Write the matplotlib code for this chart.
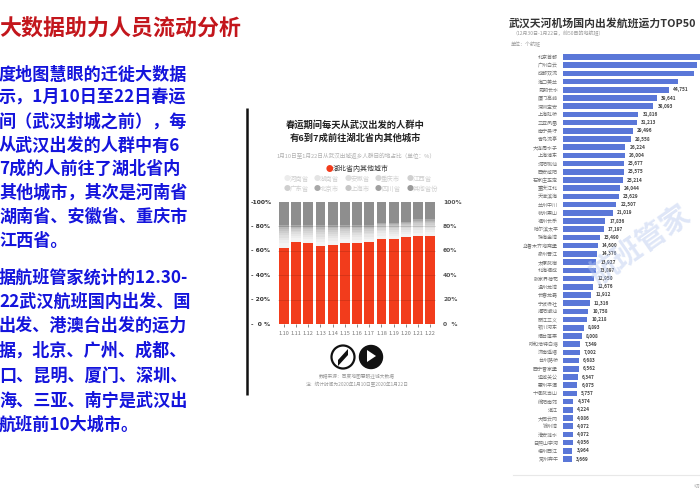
import matplotlib
matplotlib.use("Agg")
import matplotlib.pyplot as plt
from matplotlib.patches import Circle, Polygon
from matplotlib.transforms import blended_transform_factory

plt.rcParams['font.family'] = ['Noto Sans CJK SC', 'DejaVu Sans']

# ---------------- data ----------------
days = ["1.10", "1.11", "1.12", "1.13", "1.14", "1.15", "1.16",
        "1.17", "1.18", "1.19", "1.20", "1.21", "1.22"]
hubei = [62.5, 67.5, 66.5, 64, 65, 66.5, 66, 67, 70, 69.5, 71, 72, 72.5]
henan = [3.5, 2.6, 2.8, 3.3, 3.1, 2.8, 2.9, 2.7, 2.5, 2.6, 2.5, 2.7, 2.6]
hunan = [2.6, 1.9, 2.0, 2.4, 2.2, 2.0, 2.1, 2.0, 1.8, 1.9, 1.8, 2.0, 1.9]
anhui = [2.2, 1.6, 1.7, 2.0, 1.9, 1.7, 1.8, 1.7, 1.6, 1.6, 1.6, 1.7, 1.6]
chongqing = [2.0, 1.5, 1.6, 1.8, 1.7, 1.6, 1.6, 1.5, 1.4, 1.5, 1.4, 1.5, 1.5]
jiangxi = [1.8, 1.3, 1.4, 1.6, 1.5, 1.4, 1.4, 1.3, 1.2, 1.3, 1.2, 1.3, 1.3]
guangdong = [1.9, 1.4, 1.5, 1.8, 1.7, 1.5, 1.6, 1.5, 1.4, 1.4, 1.4, 1.5, 1.4]
beijing = [1.4, 1.0, 1.1, 1.3, 1.2, 1.1, 1.1, 1.0, 1.0, 1.0, 1.0, 1.0, 1.0]
shanghai = [1.2, 0.9, 1.0, 1.1, 1.0, 1.0, 1.0, 0.9, 0.8, 0.9, 0.8, 0.9, 0.9]
sichuan = [1.9, 1.3, 1.4, 1.7, 1.7, 1.4, 1.5, 1.4, 1.3, 1.3, 1.3, 1.4, 1.3]
others = [19, 19, 19, 19, 19, 19, 19, 19, 17, 17, 16, 14, 14]

province_names = ["河南省", "湖南省", "安徽省", "重庆市", "江西省",
                  "广东省", "北京市", "上海市", "四川省", "其他省份"]
province_values = [henan, hunan, anhui, chongqing, jiangxi,
                   guangdong, beijing, shanghai, sichuan, others]
province_colors = ["#f3f3f3", "#ededed", "#e6e6e6", "#dedede", "#d6d6d6",
                   "#cdcdcd", "#c3c3c3", "#b8b8b8", "#a9a9a9", "#8e8e8e"]
legend_colors = ["#ececec", "#e4e4e4", "#dedede", "#d6d6d6", "#d0d0d0",
                 "#cfcfcf", "#a8a8a8", "#c6c6c6", "#a0a0a0", "#9a9a9a"]

airports = ["北京首都", "广州白云", "成都双流", "海口美兰", "昆明长水", "厦门高崎",
            "深圳宝安", "上海虹桥", "三亚凤凰", "南宁吴圩", "青岛流亭", "大连周水子",
            "上海浦东", "沈阳桃仙", "西安咸阳", "石家庄正定", "重庆江北", "天津滨海",
            "兰州中川", "杭州萧山", "福州长乐", "哈尔滨太平", "珠海金湾", "乌鲁木齐地窝堡",
            "泉州晋江", "太原武宿", "北海福成", "张家界荷花", "温州龙湾", "长春龙嘉",
            "宁波栎社", "揭阳潮汕", "丽江三义", "银川河东", "烟台蓬莱", "呼和浩特白塔",
            "济南遥墙", "台州路桥", "西宁曹家堡", "运城关公", "惠州平潭", "十堰武当山",
            "绵阳南郊", "湛江", "大同云冈", "锦州湾", "淮安涟水", "日照山字河",
            "梧州西江", "常州奔牛"]
flights = [64800, 56400, 55200, 48560, 44751, 39641, 38093, 31816, 31213, 29496,
           28558, 26224, 26004, 25677, 25575, 25214, 24044, 23629, 22507, 21019,
           17836, 17197, 15490, 14600, 14376, 13927, 13897, 12950, 12676, 11912,
           11316, 10758, 10218, 8893, 8008, 7349, 7002, 6683, 6562, 6347,
           6075, 5757, 4374, 4224, 4086, 4072, 4072, 4056, 3964, 3669]

W, H = 700, 500
fig = plt.figure(figsize=(7, 5), dpi=100)
fig.patch.set_facecolor("white")

def fx(x):
    return x / W

def fy(y):
    return 1 - y / H

# overlay in pixel coordinates for decorations
ov = fig.add_axes([0, 0, 1, 1], zorder=-1)
ov.set_xlim(0, W)
ov.set_ylim(H, 0)
ov.axis("off")

# ---------------- slide title and text ----------------
fig.text(fx(-1), fy(29), "大数据助力人员流动分析", fontsize=15.8, fontweight="bold",
         color="#c3161c", ha="left", va="center")

para1 = ["度地图慧眼的迁徙大数据", "示，1月10日至22日春运", "间（武汉封城之前），每",
         "从武汉出发的人群中有6", "7成的人前往了湖北省内", "其他城市，其次是河南省",
         "湖南省、安徽省、重庆市", "江西省。"]
para1_y = [75, 98, 122, 146, 169, 193, 217, 241]
para2 = ["据航班管家统计的12.30-", "22武汉航班国内出发、国", "出发、港澳台出发的运力",
         "据，北京、广州、成都、", "口、昆明、厦门、深圳、", "海、三亚、南宁是武汉出",
         "航班前10大城市。"]
para2_y = [278, 302, 326, 351, 376, 401, 425]
blue = "#1414dc"
for t, y in zip(para1, para1_y):
    fig.text(fx(-1), fy(y), t, fontsize=12.3, fontweight="bold", color=blue,
             ha="left", va="center")
for t, y in zip(para2, para2_y):
    fig.text(fx(-1), fy(y), t, fontsize=12.3, fontweight="bold", color=blue,
             ha="left", va="center")

# ---------------- middle stacked chart ----------------
ov.plot([247, 247], [108, 395], color="#111111", lw=1.8, solid_capstyle="butt")

fig.text(fx(355), fy(125), "春运期间每天从武汉出发的人群中", fontsize=6.7,
         fontweight="bold", color="#222222", ha="center", va="center")
fig.text(fx(355), fy(138), "有6到7成前往湖北省内其他城市", fontsize=6.7,
         fontweight="bold", color="#222222", ha="center", va="center")
fig.text(fx(356), fy(156), "1月10日至1月22日从武汉出城返乡人群目的地占比（单位：%）",
         fontsize=4.1, color="#b0b0b0", ha="center", va="center")
fig.text(fx(326), fy(169), "●", fontsize=5.5, color="#f23c1c", ha="left", va="center")
fig.text(fx(333), fy(169), "湖北省内其他城市", fontsize=5, color="#333333",
         ha="left", va="center")

leg_x = [284, 314, 345, 375, 407]
for i, name in enumerate(province_names):
    row = i // 5
    xx = leg_x[i % 5]
    yy = 179 if row == 0 else 189
    fig.text(fx(xx), fy(yy), "●", fontsize=5, color=legend_colors[i], ha="left", va="center")
    fig.text(fx(xx + 6), fy(yy), name, fontsize=4.6, color="#cfcfcf", ha="left", va="center")

slot = 12.2
ax1 = fig.add_axes([fx(279 - 0.1 * slot), fy(324), (13 * slot) / W, (324 - 202) / H])
xs = list(range(len(days)))
ax1.bar(xs, hubei, width=0.8, color="#f23c1c", zorder=2)
bottom = list(hubei)
for vals, col in zip(province_values, province_colors):
    ax1.bar(xs, vals, width=0.8, bottom=bottom, color=col, zorder=2)
    bottom = [b + v for b, v in zip(bottom, vals)]
ax1.set_xlim(-0.5, len(days) - 0.5)
ax1.set_ylim(0, 100)
for s in ax1.spines.values():
    s.set_visible(False)
for g in [20, 40, 60, 80]:
    ax1.axhline(g, color="#000000", alpha=0.13, lw=0.6, zorder=3)
ax1.set_yticks([])
ax1.set_xticks(xs)
ax1.set_xticklabels(days, fontsize=4, color="#777777")
ax1.tick_params(axis="x", length=2, width=0.5, color="#555555", pad=3)
ax1.patch.set_visible(False)

tr = blended_transform_factory(fig.transFigure, ax1.transData)
left_lbl = ["-100%", "- 80%", "- 60%", "- 40%", "- 20%", "-  0 %"]
right_lbl = ["100%", "80%", "60%", "40%", "20%", "0  %"]
for v, l, r in zip([100, 80, 60, 40, 20, 0], left_lbl, right_lbl):
    fig.text(fx(251), v, l, transform=tr, fontsize=4.3, color="#333333",
             ha="left", va="center", family=["DejaVu Sans Condensed", "DejaVu Sans"],
             fontweight="bold")
    fig.text(fx(443), v, r, transform=tr, fontsize=4.3, color="#555555",
             ha="left", va="center", family=["DejaVu Sans Condensed", "DejaVu Sans"],
             fontweight="bold")

# icons and source
ov.add_patch(Circle((343, 357), 11.5, facecolor="white", edgecolor="#111111", lw=1.6))
ov.add_patch(Polygon([[348, 349], [338, 360], [338, 366], [348, 355]], closed=True,
                     facecolor="#111111", edgecolor="none"))
ov.add_patch(Circle((371, 357), 11.5, facecolor="#111111", edgecolor="#111111", lw=1))
ov.add_patch(Polygon([[367, 350], [376, 356], [367, 362]], closed=True,
                     facecolor="white", edgecolor="none"))
fig.text(fx(357), fy(377), "数据来源：百度地图慧眼迁徙大数据", fontsize=3.4,
         color="#999999", ha="center", va="center")
fig.text(fx(357), fy(385), "注：统计时间为2020年1月10日至2020年1月22日", fontsize=3.4,
         color="#999999", ha="center", va="center")

# ---------------- right horizontal bar chart ----------------
fig.text(fx(509), fy(23), "武汉天河机场国内出发航班运力TOP50", fontsize=7.8,
         fontweight="bold", color="#333333", ha="left", va="center")
fig.text(fx(512), fy(33), "（12月30日-1月22日，前50目的地航班）", fontsize=3.6,
         color="#9a9a9a", ha="left", va="center")
fig.text(fx(511), fy(44), "单位：个航班", fontsize=3.6, color="#9a9a9a",
         ha="left", va="center")

n = len(airports)
step = (459 - 57) / (n - 1)
top_px = 57 - step / 2
bot_px = 459 + step / 2
xmax = 70000
px_per_unit = 2.37 / 1000
ax2 = fig.add_axes([fx(563), fy(bot_px), (xmax * px_per_unit) / W, (bot_px - top_px) / H])
ys = list(range(n))
ax2.barh(ys, flights, height=0.68, color="#5a77d8", zorder=2)
ax2.set_ylim(n - 0.5, -0.5)
ax2.set_xlim(0, xmax)
for s in ax2.spines.values():
    s.set_visible(False)
ax2.set_xticks([])
ax2.set_yticks(ys)
ax2.set_yticklabels(airports, fontsize=3.6, color="#707070")
ax2.tick_params(axis="y", length=0, pad=3.5)
ax2.patch.set_visible(False)
for y, v in zip(ys, flights):
    # value labels of the longest bars fall outside the cropped view (as in the source)
    if 563 + v * px_per_unit + 22 > W:
        continue
    ax2.annotate(f"{v:,}", (v, y), xytext=(3, 0), textcoords="offset points",
                 fontsize=3.4, fontweight="bold", color="#444444",
                 ha="left", va="center")

ov.plot([513, 700], [475, 475], color="#e8e8e8", lw=0.8)
fig.text(fx(640), fy(245), "航班管家", rotation=35, fontsize=21, fontweight="bold",
         color="#b8c9ef", alpha=0.45, ha="center", va="center", zorder=5)
fig.text(fx(694), fy(486), "切", fontsize=4, color="#aaaaaa", ha="left", va="center")

fig.savefig("out.png", dpi=100)
